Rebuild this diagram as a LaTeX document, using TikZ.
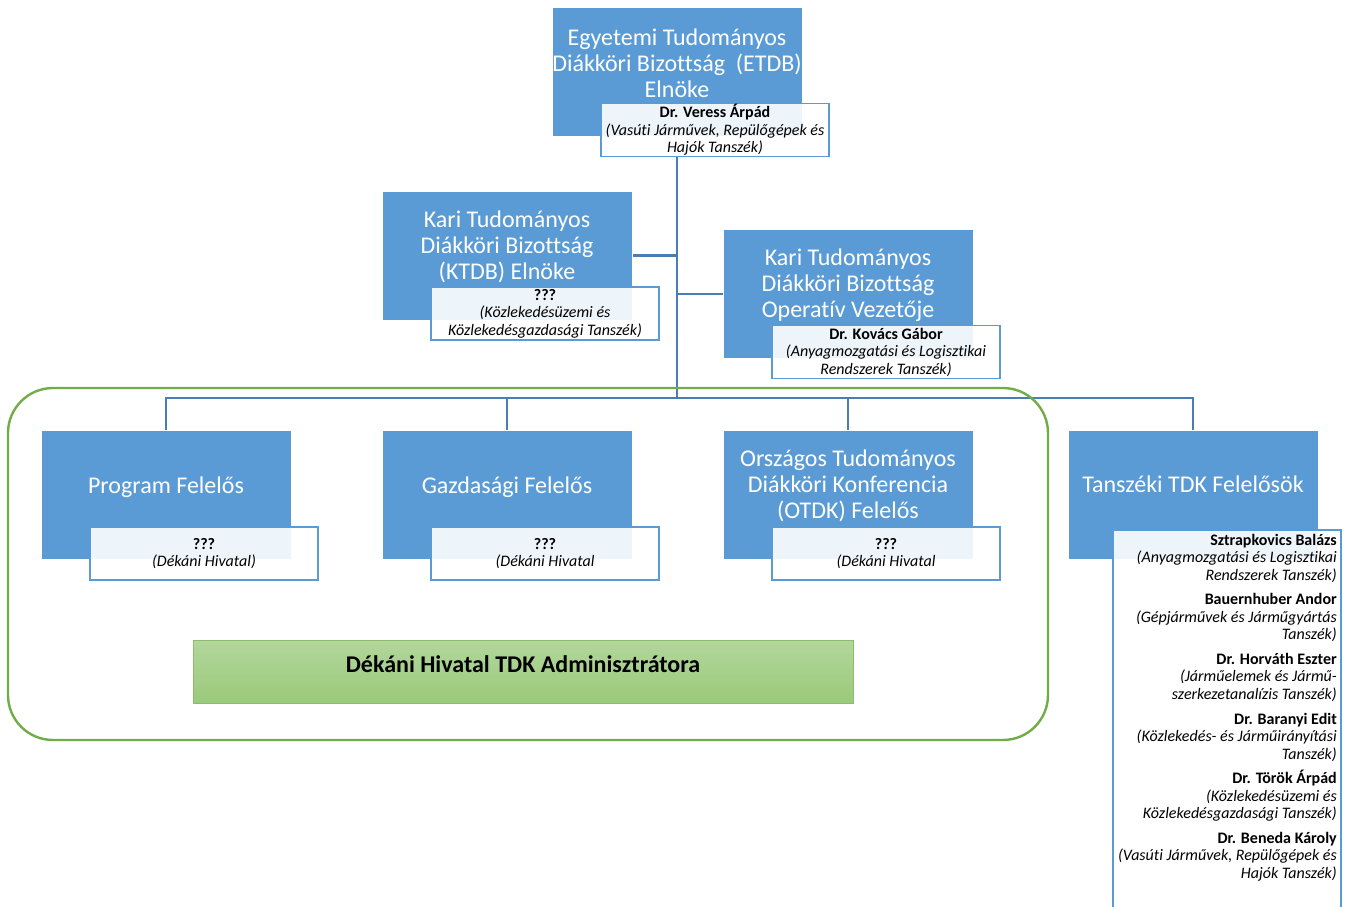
\documentclass[tikz,border=0pt]{standalone}
\usepackage{fontspec}
\setmainfont{Carlito}[Ligatures=NoCommon]
\usetikzlibrary{backgrounds}
\definecolor{boxblue}{HTML}{5B9BD5}
\definecolor{linkblue}{HTML}{4A7EB3}
\definecolor{framegreen}{HTML}{70AD47}
\definecolor{admintop}{HTML}{B3D69C}
\definecolor{adminbot}{HTML}{9ACA7A}
\tikzset{rolebox/.style = {fill=boxblue, draw=white, line width=0.6pt,
                           minimum width=250pt, minimum height=129pt, inner sep=0pt}}
\tikzset{roletext/.style = {text=white, align=center, inner sep=0pt,
                            font=\fontsize{24}{26}\selectfont}}
\tikzset{namebox/.style = {fill=white, fill opacity=0.9, draw=boxblue, line width=1.8pt,
                           minimum width=228pt, minimum height=53pt, inner sep=0pt}}
\tikzset{nametext/.style = {align=center, inner sep=0pt,
                            font=\fontsize{16}{17.5}\selectfont}}
\tikzset{listtext/.style = {align=right, inner sep=0pt, anchor=north east,
                            font=\fontsize{16}{17.5}\selectfont}}
\tikzset{link/.style = {draw=linkblue, line width=2.2pt}}
\newcommand{\tallline}{\rule{0pt}{15pt}}

\begin{document}
\begin{tikzpicture}[x=1pt,y=-1pt]
        \useasboundingbox (0,0) rectangle (1355,906);
        % top level
        \node[rolebox] (etdb) at (677,71.5) {};
        \node[roletext] (etdbtext) at ([yshift=8.5pt]etdb.center) {Egyetemi Tudományos\\Diákköri Bizottság~ (ETDB)\\Elnöke};
        \node[namebox] (etdbname) at (715,130) {};
        \node[nametext] (etdbwho) at (etdbname.center) {\textbf{Dr. Veress Árpád}\\\textit{(Vasúti Járművek, Repülőgépek és}\\\textit{Hajók Tanszék)}};
        % faculty level
        \node[rolebox] (ktdb) at (507,255.5) {};
        \node[roletext] (ktdbtext) at ([yshift=9pt]ktdb.center) {Kari Tudományos\\Diákköri Bizottság\\(KTDB) Elnöke};
        \node[namebox] (ktdbname) at (545,313.5) {};
        \node[nametext] (ktdbwho) at (ktdbname.center) {\textbf{???}\\\textit{(Közlekedésüzemi és}\\\textit{Közlekedésgazdasági Tanszék)}};
        \node[rolebox] (ktdbop) at (848,294) {};
        \node[roletext] (ktdboptext) at ([yshift=9pt]ktdbop.center) {Kari Tudományos\\Diákköri Bizottság\\Operatív Vezetője};
        \node[namebox] (ktdbopname) at (886,352) {};
        \node[nametext] (ktdbopwho) at (ktdbopname.center) {\textbf{Dr. Kovács Gábor}\\\textit{(Anyagmozgatási és Logisztikai}\\\textit{Rendszerek Tanszék)}};
        % green group
        \draw[framegreen, line width=2.4pt, rounded corners=45pt] (8,388) rectangle (1048,740);
        % bottom level
        \node[rolebox] (prog) at (166,495) {};
        \node[roletext] (progtext) at ([yshift=8pt]prog.center) {Program Felelős};
        \node[namebox] (progname) at (204,553.5) {};
        \node[nametext] (progwho) at (progname.center) {\textbf{???}\\\textit{(Dékáni Hivatal)}};
        \node[rolebox] (gazd) at (507,495) {};
        \node[roletext] (gazdtext) at ([yshift=8pt]gazd.center) {Gazdasági Felelős};
        \node[namebox] (gazdname) at (545,553.5) {};
        \node[nametext] (gazdwho) at (gazdname.center) {\textbf{???}\\\textit{(Dékáni Hivatal}};
        \node[rolebox] (otdk) at (848,495) {};
        \node[roletext] (otdktext) at ([yshift=9pt]otdk.center) {Országos Tudományos\\Diákköri Konferencia\\(OTDK) Felelős};
        \node[namebox] (otdkname) at (886,553.5) {};
        \node[nametext] (otdkwho) at (otdkname.center) {\textbf{???}\\\textit{(Dékáni Hivatal}};
        \node[rolebox] (tanszek) at (1193,495) {};
        \node[roletext] (tanszektext) at ([yshift=11pt]tanszek.center) {Tanszéki TDK Felelősök};
        \node[namebox, minimum height=385pt] (tanszeklist) at (1227,722.5) {};
        \node[listtext] (member1) at (1337,530) {\tallline\textbf{Sztrapkovics Balázs}\\\textit{(Anyagmozgatási és Logisztikai}\\\textit{Rendszerek Tanszék)}};
        \node[listtext] (member2) at (1337,589.6) {\tallline\textbf{Bauernhuber Andor}\\\textit{(Gépjárművek és Járműgyártás}\\\textit{Tanszék)}};
        \node[listtext] (member3) at (1337,649.2) {\tallline\textbf{Dr. Horváth Eszter}\\\textit{(Járműelemek és Jármű-}\\\textit{szerkezetanalízis Tanszék)}};
        \node[listtext] (member4) at (1337,708.8) {\tallline\textbf{Dr. Baranyi Edit}\\\textit{(Közlekedés- és Járműirányítási}\\\textit{Tanszék)}};
        \node[listtext] (member5) at (1337,768.4) {\tallline\textbf{Dr. Török Árpád}\\\textit{(Közlekedésüzemi és}\\\textit{Közlekedésgazdasági Tanszék)}};
        \node[listtext] (member6) at (1337,828) {\tallline\textbf{Dr. Beneda Károly}\\\textit{(Vasúti Járművek, Repülőgépek és}\\\textit{Hajók Tanszék)}};
        % administrator
        \node[draw=framegreen!80, line width=0.8pt, top color=admintop, bottom color=adminbot,
              minimum width=660pt, minimum height=63pt] (admin) at (523,671.5) {};
        \node[font=\fontsize{24}{26}\selectfont\bfseries, inner sep=0pt] (admintext)
              at ([yshift=7pt]admin.center) {Dékáni Hivatal TDK Adminisztrátora};
        % connectors
        \begin{scope}[on background layer]
            \coordinate (hub) at (677,398);
            \draw[link] (etdbname.south -| etdb.south) -- (hub);
            \draw[link] (ktdb.east) -- (ktdb.east -| hub);
            \draw[link] (ktdbop.west) -- (ktdbop.west -| hub);
            \draw[link] (prog.north) |- (hub) -| (tanszek.north);
            \draw[link] (gazd.north) -- (gazd.north |- hub);
            \draw[link] (otdk.north) -- (otdk.north |- hub);
        \end{scope}
\end{tikzpicture}
\end{document}
